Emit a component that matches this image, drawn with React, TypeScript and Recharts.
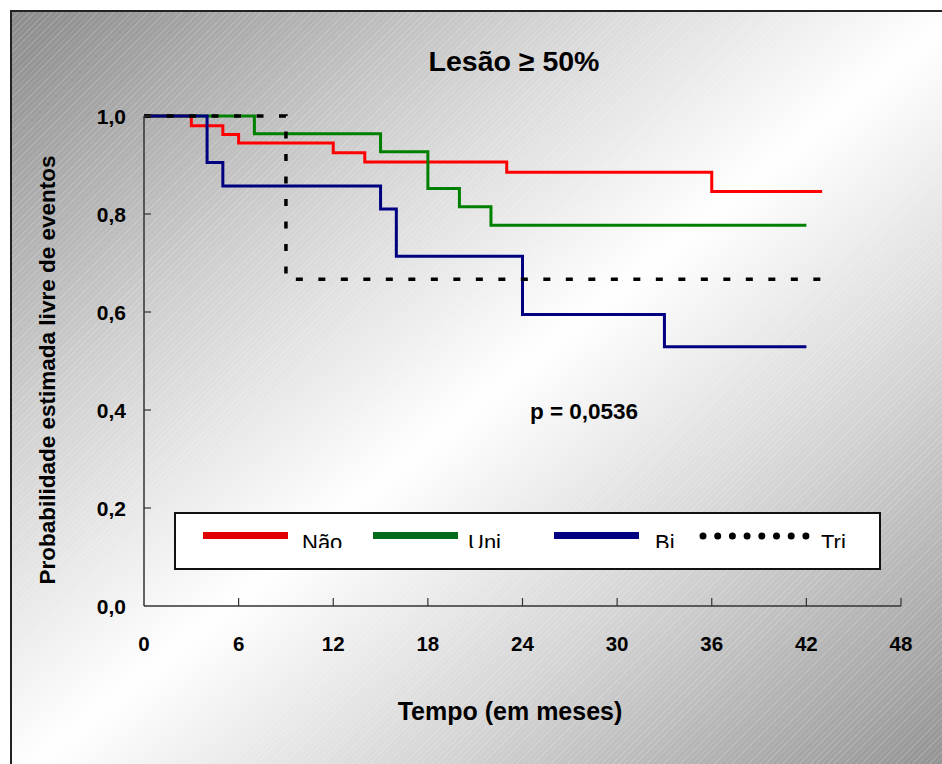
import React from 'react';
import { LineChart, Line, XAxis, YAxis } from 'recharts';

// Kaplan-Meier estimates (months, survival)
const naoTimes = [0, 3, 5, 6, 12, 14, 23, 36, 43];
const naoSurv = [1, 0.98, 0.962, 0.945, 0.925, 0.906, 0.885, 0.846, 0.846];

const uniTimes = [0, 7, 15, 18, 20, 22, 42];
const uniSurv = [1, 0.964, 0.927, 0.852, 0.815, 0.777, 0.777];

const biTimes = [0, 4, 5, 15, 16, 24, 33, 42];
const biSurv = [1, 0.905, 0.857, 0.81, 0.714, 0.595, 0.529, 0.529];

const triTimes = [0, 9, 43];
const triSurv = [1, 0.667, 0.667];

const xTicks = [0, 6, 12, 18, 24, 30, 36, 42, 48];
const yTicks = [0, 0.2, 0.4, 0.6, 0.8, 1.0];

const seriesNames = ['Não', 'Uni', 'Bi', 'Tri'];
const title = 'Lesão ≥ 50%';
const pValue = 'p = 0,0536';

const toRows = (times: number[], surv: number[]) => times.map((t, i) => ({ t, s: surv[i] }));

const FONT = '"Liberation Sans", Arial, sans-serif';

const XTick = (props: any) => {
  const { x, y, payload } = props;
  return (
    <g>
      {payload.value !== 0 && <line x1={x} x2={x} y1={y} y2={y - 8} stroke="#333" strokeWidth={1.2} />}
      <text x={x} y={y + 45} textAnchor="middle" fontFamily={FONT} fontWeight="bold" fontSize={20.5} fill="#000">
        {payload.value}
      </text>
    </g>
  );
};

const YTick = (props: any) => {
  const { x, y, payload } = props;
  return (
    <g>
      {payload.value !== 0 && <line x1={x} x2={x + 7} y1={y} y2={y} stroke="#333" strokeWidth={1.2} />}
      <text x={x - 18} y={y + 7.5} textAnchor="end" fontFamily={FONT} fontWeight="bold" fontSize={21} fill="#000">
        {payload.value.toFixed(1).replace('.', ',')}
      </text>
    </g>
  );
};

const legendItems = [
  { name: seriesNames[0], color: '#e00000', lineX: 203, textX: 302 },
  { name: seriesNames[1], color: '#006b1a', lineX: 373, textX: 468 },
  { name: seriesNames[2], color: '#000080', lineX: 554, textX: 655 },
  { name: seriesNames[3], color: '#000', lineX: 703, textX: 821, dotted: true },
];

const App = () => {
  return (
    <div style={{ position: 'absolute', left: 0, top: 0, width: 942, height: 764, overflow: 'hidden', background: '#fff' }}>
      <div
        style={{
          position: 'absolute', left: 10, top: 10, width: 950, height: 770,
          borderLeft: '2px solid #222', borderTop: '2px solid #222',
          background: 'linear-gradient(to bottom right, #8a8a8a 0%, #d2d2d2 28%, #ffffff 50%, #d2d2d2 72%, #8e8e8e 100%)',
        }}
      />
      <div
        style={{
          position: 'absolute', left: 12, top: 12, width: 950, height: 770,
          background: 'repeating-linear-gradient(135deg, rgba(255,255,255,0.16) 0px, rgba(255,255,255,0.16) 1px, transparent 1px, transparent 4px)',
        }}
      />
      <div style={{ position: 'absolute', left: 0, top: 0 }}>
        <LineChart width={942} height={764} margin={{ top: 116, right: 41, left: 0, bottom: 0 }}>
          <XAxis
            type="number"
            dataKey="t"
            domain={[0, 48]}
            ticks={xTicks}
            interval={0}
            height={158}
            tickSize={0}
            tickMargin={0}
            tickLine={false}
            axisLine={{ stroke: '#333', strokeWidth: 1.5 }}
            tick={<XTick />}
            allowDuplicatedCategory={false}
          />
          <YAxis
            type="number"
            domain={[0, 1]}
            ticks={yTicks}
            interval={0}
            width={144}
            tickSize={0}
            tickMargin={0}
            tickLine={false}
            axisLine={{ stroke: '#333', strokeWidth: 1.5 }}
            tick={<YTick />}
          />
          <Line data={toRows(naoTimes, naoSurv)} dataKey="s" name={seriesNames[0]} type="stepAfter" stroke="#ff0000" strokeWidth={3} dot={false} isAnimationActive={false} />
          <Line data={toRows(uniTimes, uniSurv)} dataKey="s" name={seriesNames[1]} type="stepAfter" stroke="#008000" strokeWidth={3} dot={false} isAnimationActive={false} />
          <Line data={toRows(biTimes, biSurv)} dataKey="s" name={seriesNames[2]} type="stepAfter" stroke="#000080" strokeWidth={3} dot={false} isAnimationActive={false} />
          <Line data={toRows(triTimes, triSurv)} dataKey="s" name={seriesNames[3]} type="stepAfter" stroke="#000" strokeWidth={3.5} strokeDasharray="7 15.5" dot={false} isAnimationActive={false} />
        </LineChart>
      </div>
      <svg width={942} height={764} style={{ position: 'absolute', left: 0, top: 0, pointerEvents: 'none' }}>
        <text x={514} y={71} textAnchor="middle" fontFamily={FONT} fontWeight="bold" fontSize={28.5} fill="#000">{title}</text>
        <text x={584} y={419} textAnchor="middle" fontFamily={FONT} fontWeight="bold" fontSize={22.5} fill="#000">{pValue}</text>
        <text x={510} y={720} textAnchor="middle" fontFamily={FONT} fontWeight="bold" fontSize={25} fill="#000">Tempo (em meses)</text>
        <text x={0} y={0} transform="translate(55,370) rotate(-90)" textAnchor="middle" fontFamily={FONT} fontWeight="bold" fontSize={22.5} fill="#000">
          Probabilidade estimada  livre de eventos
        </text>
        <defs>
          <clipPath id="legClip">
            <rect x={175} y={513} width={705} height={35} />
          </clipPath>
        </defs>
        <rect x={175} y={513} width={705} height={56} fill="#fff" stroke="#111" strokeWidth={2} />
        {legendItems.map((it) => (
          <g key={it.name}>
            {it.dotted ? (
              <line x1={it.lineX} x2={it.lineX + 104} y1={536} y2={536} stroke={it.color} strokeWidth={7} strokeDasharray="0 14.7" strokeLinecap="round" />
            ) : (
              <line x1={it.lineX} x2={it.lineX + 85} y1={535.5} y2={535.5} stroke={it.color} strokeWidth={7} />
            )}
            <text x={it.textX} y={550} fontFamily={FONT} fontSize={22} fill="#000" clipPath="url(#legClip)">{it.name}</text>
          </g>
        ))}
      </svg>
    </div>
  );
};

export default App;
